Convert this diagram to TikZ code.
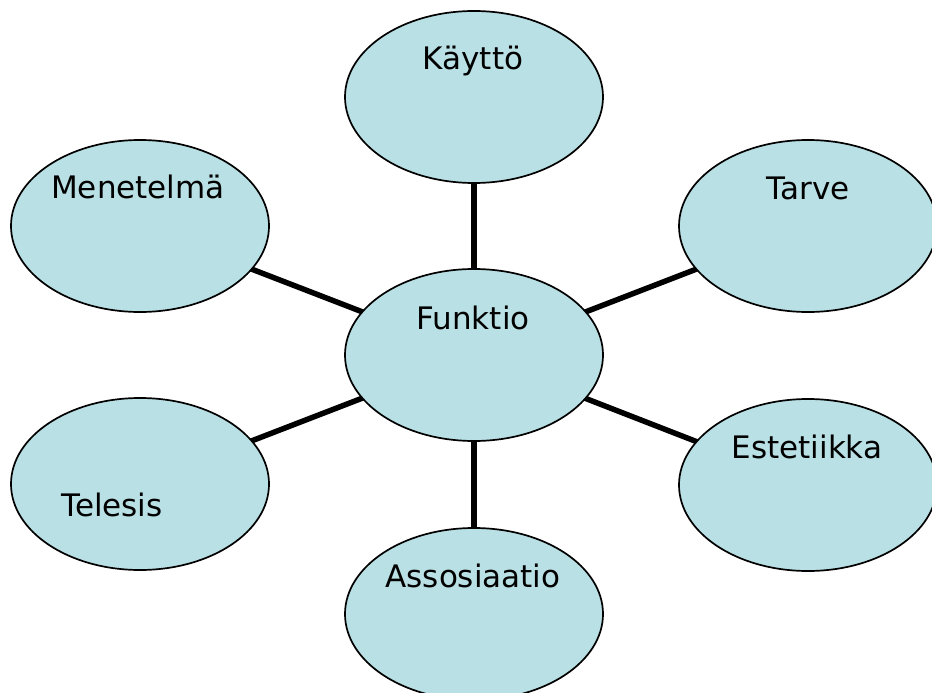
\documentclass[tikz,border=0pt]{standalone}
\usepackage{fontspec}
\setmainfont{DejaVu Sans}
\usetikzlibrary{shapes.geometric,backgrounds}
\definecolor{bubblefill}{RGB}{185,224,228}
\begin{document}
\begin{tikzpicture}[x=1bp,y=-1bp,
  bubble/.style={ellipse, draw=black, line width=1.7bp, fill=bubblefill,
    minimum width=258bp, minimum height=172bp, inner sep=0pt},
  spoke/.style={line width=5.5bp, black},
  caption/.style={font=\fontsize{31bp}{37bp}\selectfont, inner sep=0pt, anchor=base}]
\useasboundingbox (0,0) rectangle (932,693);
\clip (0,0) rectangle (932,693);
% concept bubbles
\node[bubble] (fun) at (474,355) {};
\node[bubble] (kay) at (474,97) {};
\node[bubble] (tar) at (808,226) {};
\node[bubble] (men) at (140,226) {};
\node[bubble] (tel) at (140,484) {};
\node[bubble] (est) at (808,485) {};
\node[bubble] (ass) at (474,614) {};
% spokes from the centre bubble
\begin{pgfonlayer}{background}
  \foreach \n in {kay,tar,men,tel,est,ass}
    \draw[spoke] (fun.center) -- (\n.center);
\end{pgfonlayer}
% captions
\node[caption] (tfun) at (473,329) {Funktio};
\node[caption] (tkay) at (473,70) {Käyttö};
\node[caption] (ttar) at (808,199) {Tarve};
\node[caption] (tmen) at (138,198) {Menetelmä};
\node[caption] (ttel) at (112,516) {Telesis};
\node[caption] (test) at (807,458) {Estetiikka};
\node[caption] (tass) at (473,587) {Assosiaatio};
\end{tikzpicture}
\end{document}
